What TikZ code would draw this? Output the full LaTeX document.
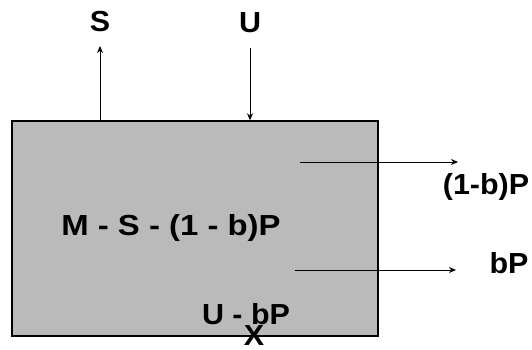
\documentclass[tikz,border=0pt]{standalone}
\usepackage{fontspec}
\setmainfont{Liberation Sans}
\usetikzlibrary{arrows.meta}
\begin{document}
\begin{tikzpicture}[x=1pt,y=-1pt,
  lbl/.style={font=\bfseries\fontsize{29}{32}\selectfont, inner sep=0pt, xscale=1.05},
  flow/.style={line width=0.9pt, -{Stealth[length=7pt,width=6pt]}},
  tank/.style={draw=black, line width=1.4pt, fill=black!27, inner sep=0pt}]
\useasboundingbox (0,0) rectangle (532,349);
\node[tank, minimum width=366pt, minimum height=215pt] (box) at (195,228.5) {};
\node[lbl] (S) at (100,22) {S};
\node[lbl] (U) at (250,23) {U};
\node[lbl] (P1) at (486,187) {(1-b)P};
\node[lbl] (bP) at (509,263) {bP};
\node[lbl, xscale=1.08] (M) at (171,228) {M - S - (1 - b)P};
\node[lbl] (UbP) at (246,314) {U - bP};
\node[lbl] (X) at (254,336) {X};
\coordinate (sTop) at (100,46);
\coordinate (uTop) at (250,48);
\coordinate (p1s) at (300,162);
\coordinate (p1e) at (458,162);
\coordinate (bps) at (295,270);
\coordinate (bpe) at (456,270);
\draw[flow] (box.north -| sTop) -- (sTop);
\draw[flow] (uTop) -- (box.north -| uTop);
\draw[flow] (p1s) -- (p1e);
\draw[flow] (bps) -- (bpe);
\end{tikzpicture}
\end{document}
